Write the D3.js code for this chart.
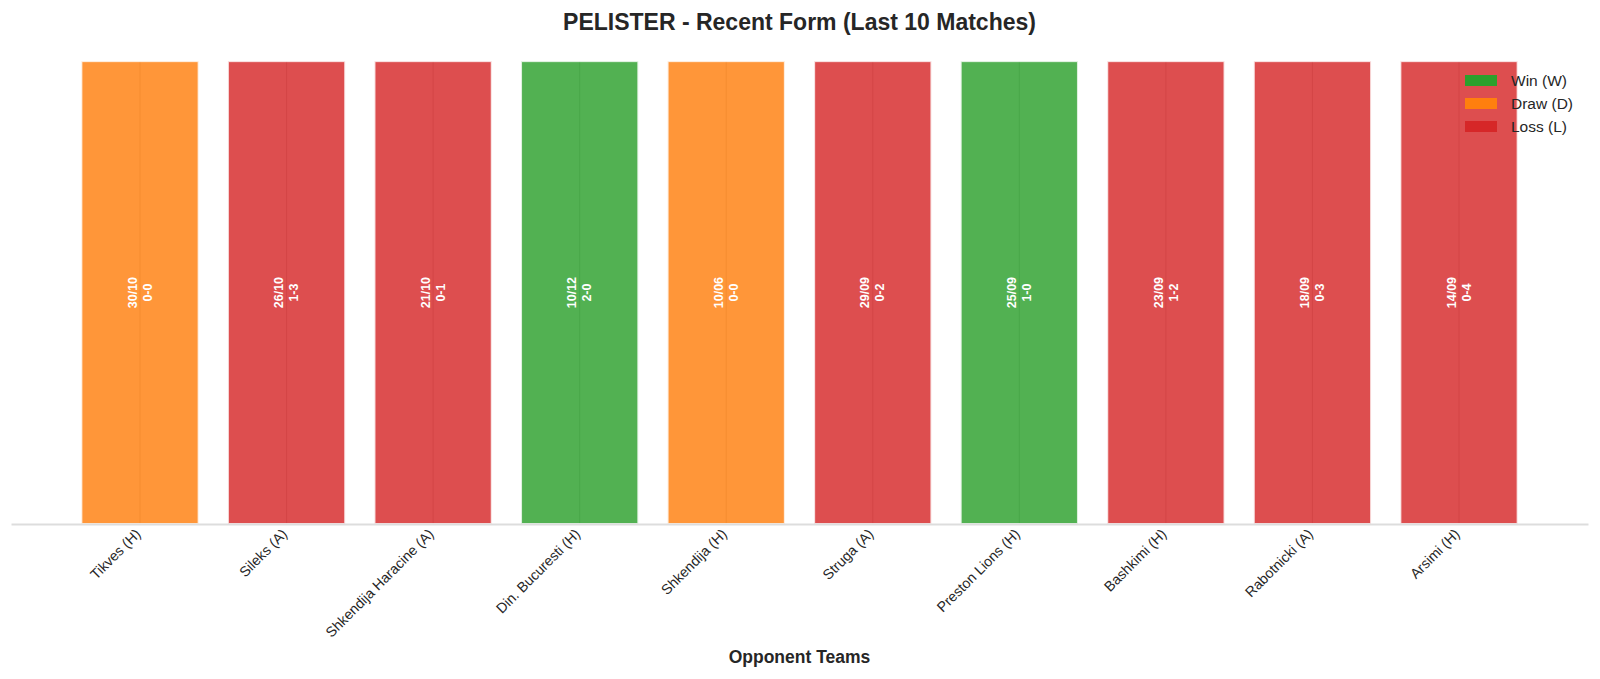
<!DOCTYPE html>
<html>
<head>
<meta charset="utf-8">
<script src="https://cdn.jsdelivr.net/npm/d3@7"></script>
<style>
  html, body { margin: 0; padding: 0; background: #ffffff; }
  svg { display: block; font-family: "Liberation Sans", Arial, sans-serif; }
</style>
</head>
<body>
<svg id="chart" width="1600" height="679"></svg>
<script>
const opponents = ["Tikves (H)", "Sileks (A)", "Shkendija Haracine (A)", "Din. Bucuresti (H)", "Shkendija (H)", "Struga (A)", "Preston Lions (H)", "Bashkimi (H)", "Rabotnicki (A)", "Arsimi (H)"];
const results = ["D", "L", "L", "W", "D", "L", "W", "L", "L", "L"];
const dates = ["30/10", "26/10", "21/10", "10/12", "10/06", "29/09", "25/09", "23/09", "18/09", "14/09"];
const scores = ["0-0", "1-3", "0-1", "2-0", "0-0", "0-2", "1-0", "1-2", "0-3", "0-4"];
const values = [1, 1, 1, 1, 1, 1, 1, 1, 1, 1];
const legendLabels = ["Win (W)", "Draw (D)", "Loss (L)"];
const legendKeys = ["W", "D", "L"];
const titleText = "PELISTER - Recent Form (Last 10 Matches)";
const xLabelText = "Opponent Teams";

const colors = { W: "#2ca02c", D: "#ff7f0e", L: "#d62728" };

(function () {
const svg = d3.select("#chart");
const mLeft = 11, mRight = 1588, mTop = 38, mBottom = 524;
const n = opponents.length;
const barW = 0.8;

const x = d3.scaleLinear().domain([-0.4 - 0.049 * (n - 1 + barW), n - 1 + 0.4 + 0.049 * (n - 1 + barW)]).range([mLeft, mRight]);
const y = d3.scaleLinear().domain([0, 1.05]).range([mBottom, mTop]);

const data = opponents.map((o, i) => ({ o, i, r: results[i], d: dates[i], s: scores[i], v: values[i] }));

// Title
svg.append("text")
  .attr("x", (mLeft + mRight) / 2).attr("y", 30)
  .attr("text-anchor", "middle")
  .attr("font-size", 23).attr("font-weight", "bold").attr("fill", "#262626")
  .text(titleText);

// vertical grid lines (under bars)
svg.append("g").selectAll("line").data(data).join("line")
  .attr("x1", d => x(d.i)).attr("x2", d => x(d.i))
  .attr("y1", d => y(d.v)).attr("y2", mBottom)
  .attr("stroke", "#cccccc").attr("stroke-width", 1.2);

// bars
const pxW = x(barW) - x(0);
svg.append("g").selectAll("rect").data(data).join("rect")
  .attr("x", d => x(d.i) - pxW / 2)
  .attr("y", d => y(d.v))
  .attr("width", pxW)
  .attr("height", d => mBottom - y(d.v))
  .attr("fill", d => colors[d.r]).attr("fill-opacity", 0.82)
  .attr("stroke", "#ffffff").attr("stroke-opacity", 0.8).attr("stroke-width", 2);

// bar labels
const lbl = svg.append("g").selectAll("text").data(data).join("text")
  .attr("transform", d => `translate(${x(d.i)},${y(d.v / 2)}) rotate(-90)`)
  .attr("text-anchor", "middle")
  .attr("font-size", 12.5).attr("font-weight", "bold").attr("fill", "#ffffff");
lbl.append("tspan").attr("x", 0).attr("dy", "-0.27em").text(d => d.d);
lbl.append("tspan").attr("x", 0).attr("dy", "1.2em").text(d => d.s);

// x axis
const axis = d3.axisBottom(x).tickValues(d3.range(n)).tickSize(0).tickFormat(i => opponents[i]);
const gx = svg.append("g").attr("transform", `translate(0,${mBottom})`).call(axis);
gx.select(".domain").attr("stroke", "#dddddd").attr("stroke-width", 2);
gx.selectAll(".tick text")
  .attr("font-size", 14.2).attr("fill", "#262626")
  .attr("font-family", "Liberation Sans, Arial, sans-serif")
  .attr("text-anchor", "end")
  .attr("y", 0).attr("dy", 0)
  .attr("transform", "translate(1,11) rotate(-45)");

// x label
svg.append("text")
  .attr("x", (mLeft + mRight) / 2).attr("y", 663)
  .attr("text-anchor", "middle")
  .attr("font-size", 17.5).attr("font-weight", "bold").attr("fill", "#262626")
  .text(xLabelText);

// legend
const lg = svg.append("g").attr("transform", "translate(1465,75)");
const items = lg.selectAll("g").data(legendKeys).join("g")
  .attr("transform", (d, i) => `translate(0,${i * 23})`);
items.append("rect").attr("width", 32).attr("height", 11).attr("fill", d => colors[d]);
items.append("text").attr("x", 46).attr("y", 5.5).attr("dy", "0.35em")
  .attr("font-size", 15.5).attr("fill", "#262626")
  .text((d, i) => legendLabels[i]);
})();
</script>
</body>
</html>
